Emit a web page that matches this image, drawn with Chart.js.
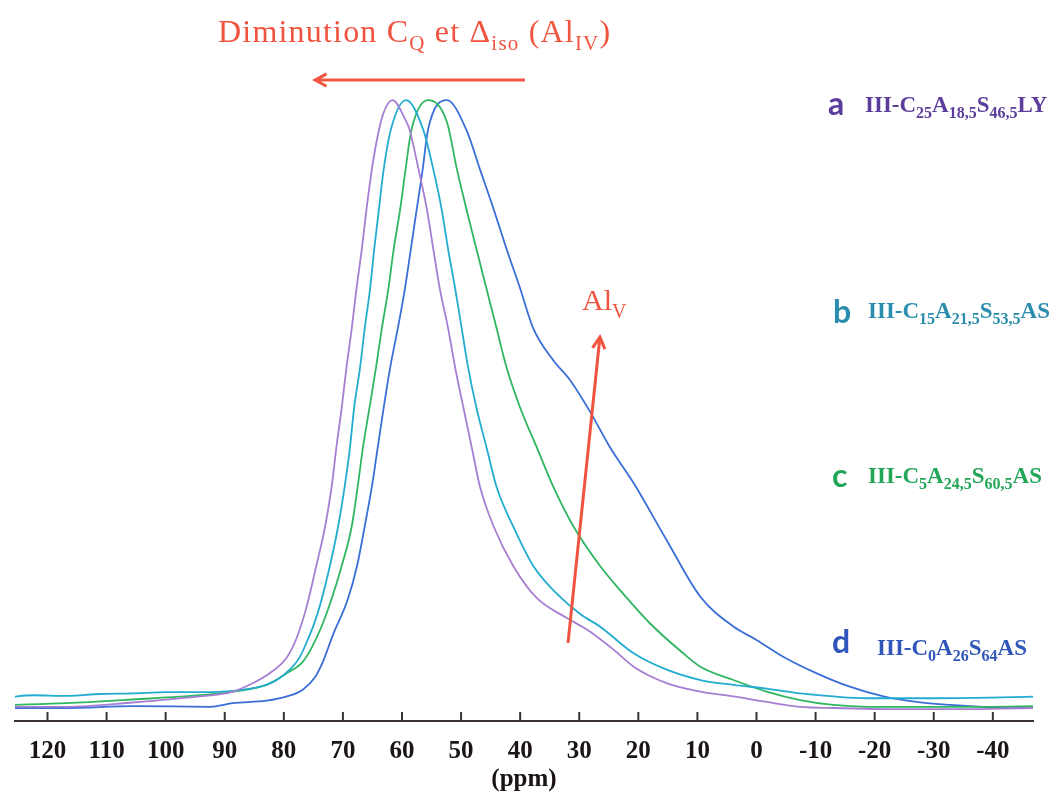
<!DOCTYPE html>
<html>
<head>
<meta charset="utf-8">
<script src="https://cdn.jsdelivr.net/npm/chart.js@4"></script>
<style>
  body { margin: 0; background: #fff; }
</style>
</head>
<body>
<canvas id="chart" width="1053" height="794"></canvas>
<script>
// 27Al spectra (ppm, normalised intensity)

const ppmA = [126.4, 116.8, 105.6, 94.3, 88.6, 85.2, 82.4, 79.5, 77.8, 76.1, 74.5, 73.0, 71.9, 71.1, 70.2, 69.4, 68.5, 67.7, 66.8, 66.0, 65.1, 64.3, 63.2, 61.6,
  59.4, 58.7, 57.2, 55.8, 54.7, 53.6, 52.2, 51.0, 49.6, 48.2, 46.8, 44.5, 41.2, 37.2, 32.1, 28.7, 24.2, 20.8, 15.2, 9.5, 3.9, -1.7, -7.4, -13.0, -24.3, -35.5, -46.8, -48.9];
const intA = [0.2, 0.2, 0.9, 1.9, 2.7, 4.1, 5.7, 8.3, 11.6, 16.8, 23.4, 29.9, 36.4, 42.9, 49.4, 56.0, 62.5, 69.0, 75.5, 82.1, 88.6, 93.2, 97.7, 100,
  96.7, 95.1, 88.6, 82.1, 75.5, 69.0, 62.5, 56.0, 49.4, 42.9, 36.4, 29.9, 23.4, 18.1, 14.8, 12.9, 9.6, 6.8, 4.1, 2.7, 1.9, 1.0, 0.2, 0.0, -0.2, -0.2, 0.0, 0.0];

const ppmB = [126.4, 122.5, 116.8, 111.1, 105.6, 99.8, 94.2, 88.6, 84.0, 81.2, 79.0, 77.4, 76.1, 74.9, 73.9, 72.2, 70.8, 69.7, 68.8, 68.1, 67.1, 66.3, 65.4, 64.7, 63.9, 63.1, 61.9, 59.3,
  56.4, 54.7, 53.3, 52.2, 51.0, 49.9, 48.8, 47.4, 45.7, 44.0, 41.2, 37.8, 33.8, 29.9, 26.5, 20.8, 15.2, 9.5, 3.9, -1.7, -7.4, -13.0, -18.7, -30.0, -39.6, -48.5];
const intB = [1.8, 2.1, 2.0, 2.3, 2.4, 2.6, 2.6, 2.8, 3.5, 4.6, 6.3, 8.2, 10.9, 13.8, 16.8, 23.4, 29.9, 36.4, 42.9, 49.4, 56.0, 62.5, 69.0, 75.5, 82.1, 88.6, 95.1, 100,
  95.1, 88.6, 82.1, 75.5, 69.0, 62.5, 56.0, 49.4, 42.9, 36.4, 29.9, 23.4, 18.8, 15.5, 13.4, 9.0, 6.3, 4.6, 3.8, 3.2, 2.4, 1.9, 1.6, 1.6, 1.7, 1.9];

const ppmC = [126.4, 116.8, 105.6, 94.2, 88.6, 82.9, 79.5, 76.8, 75.3, 73.7, 72.2, 70.2, 68.5, 67.5, 66.6, 65.5, 64.4, 63.4, 62.3, 61.4, 60.3, 59.4, 58.4, 55.6,
  52.4, 50.7, 49.1, 47.4, 45.7, 44.0, 42.3, 40.0, 37.2, 34.4, 31.0, 26.5, 23.1, 18.0, 12.4, 9.5, 3.9, -1.7, -7.4, -13.0, -18.7, -30.0, -39.6, -46.8];
const intC = [0.5, 0.8, 1.4, 2.1, 2.7, 3.8, 5.7, 7.6, 9.9, 13.2, 17.1, 23.4, 29.9, 36.4, 42.9, 49.4, 56.0, 62.5, 69.0, 75.5, 82.1, 88.6, 95.1, 100,
  96.4, 88.6, 82.1, 75.5, 69.0, 62.5, 56.0, 49.4, 42.9, 36.4, 29.9, 23.4, 19.4, 13.9, 9.0, 6.8, 4.6, 2.7, 1.3, 0.5, 0.2, 0.2, 0.2, 0.3];

const ppmD = [126.4, 116.8, 105.6, 92.5, 88.6, 82.9, 79.5, 76.8, 74.7, 73.4, 71.7, 69.2, 67.6, 66.3, 65.1, 64.1, 63.1, 62.0, 60.7, 59.5, 58.5, 57.5, 56.5, 55.6, 52.4,
  49.1, 46.8, 44.5, 42.3, 40.0, 37.8, 34.4, 31.6, 28.2, 24.8, 20.8, 15.2, 9.5, 3.9, 0.0, -4.6, -10.2, -15.8, -21.5, -27.1, -32.8, -38.4, -46.8];
const intD = [0.0, 0.0, 0.3, 0.2, 0.8, 1.2, 1.9, 3.0, 5.1, 7.6, 12.0, 17.8, 23.4, 29.9, 36.4, 42.9, 49.4, 56.0, 62.5, 69.0, 75.5, 82.1, 88.6, 95.1, 100,
  95.1, 88.6, 82.1, 75.5, 69.0, 62.5, 57.2, 54.0, 48.8, 42.9, 37.0, 27.6, 18.3, 13.4, 11.2, 8.4, 5.7, 3.5, 1.9, 1.0, 0.5, 0.2, 0.0];

const sampleLetters = ['a', 'b', 'c', 'd'];
// formula pieces: normal, subscript, normal, subscript ...
const sampleNames = [
  ['III-C', '25', 'A', '18,5', 'S', '46,5', 'LY'],
  ['III-C', '15', 'A', '21,5', 'S', '53,5', 'AS'],
  ['III-C', '5', 'A', '24,5', 'S', '60,5', 'AS'],
  ['III-C', '0', 'A', '26', 'S', '64', 'AS']
];
const lineColors = ['#a77fd2', '#22acd0', '#2fb660', '#3b6fd8'];
const labelColors = ['#5c3d9c', '#2a8dad', '#22a657', '#2f56b8'];

function pts(xs, ys) {
  return xs.map((v, i) => ({ x: v, y: ys[i] }));
}

const series = [pts(ppmA, intA), pts(ppmB, intB), pts(ppmC, intC), pts(ppmD, intD)];

const serif = '"Liberation Serif", "Times New Roman", serif';
const red = '#f0543f';

function rich(ctx, x, y, parts, big, small, weight, family) {
  let cx = x;
  parts.forEach((p, i) => {
    const sub = i % 2 === 1;
    ctx.font = `${weight} ${sub ? small : big}px ${family}`;
    ctx.fillText(p, cx, y + (sub ? Math.round(small * 0.4) : 0));
    cx += ctx.measureText(p).width;
  });
}

function arrow(ctx, x1, y1, x2, y2) {
  const a = Math.atan2(y2 - y1, x2 - x1);
  ctx.beginPath();
  ctx.moveTo(x1, y1);
  ctx.lineTo(x2, y2);
  ctx.stroke();
  ctx.beginPath();
  ctx.moveTo(x2 - 13 * Math.cos(a - 0.5), y2 - 13 * Math.sin(a - 0.5));
  ctx.lineTo(x2, y2);
  ctx.lineTo(x2 - 13 * Math.cos(a + 0.5), y2 - 13 * Math.sin(a + 0.5));
  ctx.stroke();
}

const notes = {
  id: 'notes',
  afterDraw(chart) {
    const { ctx, scales: { x, y } } = chart;
    ctx.save();

    // tick marks pointing up from the axis
    ctx.strokeStyle = '#3a3232';
    ctx.lineWidth = 2;
    x.ticks.forEach(t => {
      const px = x.getPixelForValue(t.value);
      ctx.beginPath();
      ctx.moveTo(px, y.bottom);
      ctx.lineTo(px, y.bottom - 9);
      ctx.stroke();
    });

    // headline + arrow
    ctx.fillStyle = red;
    ctx.textBaseline = 'alphabetic';
    ctx.letterSpacing = '1.2px';
    rich(ctx, 218, 42, ['Diminution C', 'Q', ' et \u0394', 'iso', ' (Al', 'IV', ')'], 32, 21, 'normal', serif);
    ctx.letterSpacing = '0px';
    ctx.strokeStyle = red;
    ctx.lineWidth = 3;
    arrow(ctx, x.getPixelForValue(39.2), y.getPixelForValue(103.3), x.getPixelForValue(74.7), y.getPixelForValue(103.3));

    // AlV + arrow
    rich(ctx, 582, 310, ['Al', 'V'], 30, 20, 'normal', serif);
    arrow(ctx, x.getPixelForValue(31.9), y.getPixelForValue(10.7), x.getPixelForValue(26.5), y.getPixelForValue(61.0));

    // sample labels
    const letterPos = [[828, 115], [833, 323], [832, 487], [832, 653]];
    const namePos = [[865, 112], [868, 318], [868, 483], [877, 655]];
    sampleLetters.forEach((l, i) => {
      ctx.fillStyle = labelColors[i];
      ctx.font = 'bold 32px Lato, "Open Sans", sans-serif';
      ctx.fillText(l, letterPos[i][0], letterPos[i][1]);
      rich(ctx, namePos[i][0], namePos[i][1], sampleNames[i], 23, 16, 'bold', serif);
    });
    ctx.restore();
  }
};

new Chart(document.getElementById('chart'), {
  type: 'line',
  data: {
    datasets: series.map((d, i) => ({
      label: sampleLetters[i],
      data: d,
      borderColor: lineColors[i],
      borderWidth: 1.8,
      pointRadius: 0,
      fill: false,
      cubicInterpolationMode: 'monotone'
    }))
  },
  options: {
    responsive: false,
    animation: false,
    layout: { padding: { left: 15, right: 20, top: 60, bottom: 0 } },
    plugins: {
      legend: { display: false },
      tooltip: { enabled: false }
    },
    scales: {
      x: {
        type: 'linear',
        reverse: true,
        min: -46.8,
        max: 125.5,
        border: { display: true, color: '#3a3232', width: 2 },
        grid: { display: true, drawOnChartArea: false, drawTicks: false },
        ticks: {
          stepSize: 10,
          includeBounds: false,
          autoSkip: false,
          maxRotation: 0,
          padding: 18,
          color: '#1a1414',
          font: { family: serif, size: 25, weight: 'bold', lineHeight: 1 }
        },
        title: {
          display: true,
          text: '(ppm)',
          color: '#1a1414',
          padding: { top: -14.5, bottom: 1.5 },
          font: { family: serif, size: 25, weight: 'bold', lineHeight: 1 }
        }
      },
      y: {
        display: false,
        min: -2.14,
        max: 106.6
      }
    }
  },
  plugins: [notes]
});
</script>
</body>
</html>
